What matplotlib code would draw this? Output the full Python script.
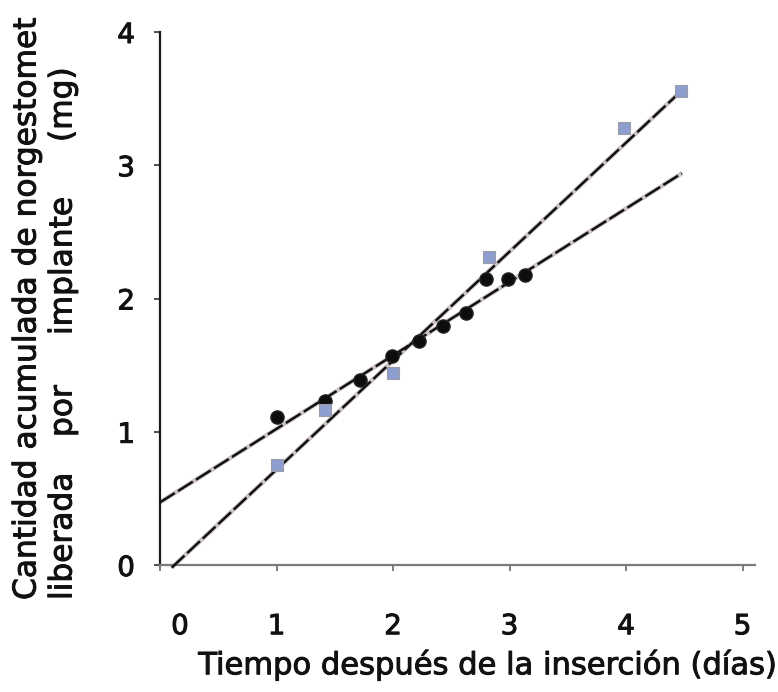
import matplotlib
matplotlib.use("Agg")
import matplotlib.pyplot as plt
import matplotlib.patheffects as pe
from matplotlib.transforms import ScaledTranslation

# Cumulative norgestomet released per implant (mg) versus days after insertion
square_days = [1.00, 1.42, 2.00, 2.82, 3.98, 4.47]
square_mg = [0.75, 1.16, 1.44, 2.31, 3.28, 3.56]

circle_days = [1.00, 1.42, 1.72, 1.99, 2.22, 2.43, 2.63, 2.80, 2.99, 3.13]
circle_mg = [1.11, 1.23, 1.39, 1.57, 1.68, 1.79, 1.89, 2.15, 2.15, 2.18]

# Fitted lines (end points)
square_fit_days = [0.10, 4.49]
square_fit_mg = [-0.02, 3.57]
circle_fit_days = [0.00, 4.48]
circle_fit_mg = [0.47, 2.94]

x_ticks = [0, 1, 2, 3, 4, 5]
y_ticks = [0, 1, 2, 3, 4]

heavy = [pe.withStroke(linewidth=0.7, foreground="#111111")]

fig = plt.figure(figsize=(7.78, 6.92), dpi=100)
W, H = 778, 692
ax = fig.add_axes([160 / W, 127 / H, 595 / W, 533 / H])

for fx, fy in [(square_fit_days, square_fit_mg), (circle_fit_days, circle_fit_mg)]:
    ax.plot(fx, fy, color="#cdc3c6", lw=3.2, solid_capstyle="butt", zorder=2, clip_on=False)
    ax.plot(fx, fy, color="#111111", lw=1.8, dashes=(7, 1.5), zorder=3, clip_on=False)

ax.scatter(circle_days, circle_mg, s=90, marker="o", color="#0d0d0d",
           edgecolors="#222222", zorder=4)
ax.scatter(square_days, square_mg, s=80, marker="s", color="#8e9fcf",
           edgecolors="#9a9aa8", linewidths=0.8, zorder=5)

ax.set_xlim(0, 5.107)
ax.set_ylim(0, 4)
ax.set_xticks(x_ticks)
ax.set_yticks(y_ticks)
ax.set_xticklabels([str(v) for v in x_ticks])
ax.set_yticklabels([str(v) for v in y_ticks])

for side in ("top", "right"):
    ax.spines[side].set_visible(False)
ax.spines["left"].set_color("#1a1a1a")
ax.spines["left"].set_linewidth(1.6)
ax.spines["bottom"].set_color("#7a7a7a")
ax.spines["bottom"].set_linewidth(1.6)

ax.tick_params(axis="x", length=4, width=1.2, color="#666666", pad=30,
               labelsize=20, labelcolor="#111111")
ax.tick_params(axis="y", length=4, width=1.2, color="#333333", pad=14,
               labelsize=20, labelcolor="#111111")

for lab in ax.get_xticklabels() + ax.get_yticklabels():
    lab.set_path_effects(heavy)

# the "0" on the day axis sits a little right of the origin
first = ax.get_xticklabels()[0]
first.set_transform(first.get_transform() + ScaledTranslation(0.2, 0, fig.dpi_scale_trans))

fig.text(487 / W, (H - 665) / H, "Tiempo después de la inserción (días)",
         fontsize=22, color="#111111", ha="center", va="center", path_effects=heavy)

fig.text(27 / W, (H - 600) / H, "Cantidad acumulada de norgestomet",
         fontsize=22.5, color="#111111", rotation=90, ha="center", va="bottom",
         path_effects=heavy)

# second line of the y title, words spread along the axis
word_bottoms = [600, 437, 335, 142]
for word, bottom in zip(["liberada", "por", "implante", "(mg)"], word_bottoms):
    fig.text(63 / W, (H - bottom) / H, word, fontsize=22.5, color="#111111",
             rotation=90, ha="center", va="bottom", path_effects=heavy)

fig.savefig("out.png", dpi=100)
